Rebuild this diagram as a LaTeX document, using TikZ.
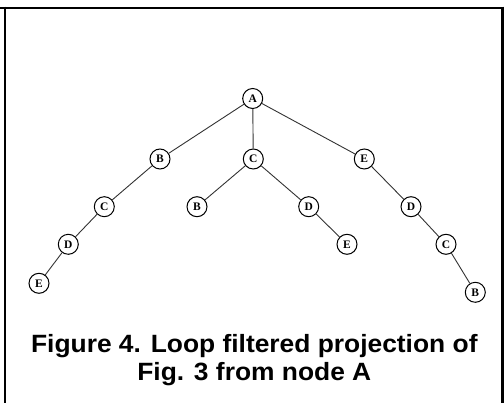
\documentclass[tikz,border=0pt]{standalone}
\usepackage{fontspec}
\setmainfont{Liberation Serif}
\newfontfamily\capfont{Liberation Sans}
\begin{document}
\begin{tikzpicture}[x=1pt,y=-1pt,
  tn/.style={circle,draw,line width=1pt,minimum size=20pt,inner sep=0pt,font=\fontsize{11.5}{13}\selectfont\bfseries},
  edge/.style={draw=black!80,line width=0.9pt},
  captext/.style={anchor=base,font=\capfont\fontsize{25}{30}\selectfont\bfseries,inner sep=0pt}]
\useasboundingbox (0,0) rectangle (504,403);
% frame
\draw[line width=2pt] (0,7.7) -- (503,7.7);
\draw[line width=2pt] (5,6.7) -- (5,403);
\draw[line width=3pt] (502.5,6.7) -- (502.5,403);
% nodes
\node[tn] (A)  at (252.7,98.5) {A};
\node[tn] (B1) at (160,159) {B};
\node[tn] (C1) at (253.3,159) {C};
\node[tn] (E1) at (364.3,159) {E};
\node[tn] (C2) at (104.3,206.7) {C};
\node[tn] (B2) at (197,206.7) {B};
\node[tn] (D2) at (308.7,206.7) {D};
\node[tn] (D3) at (411,206.7) {D};
\node[tn] (D4) at (68.3,244.3) {D};
\node[tn] (E4) at (347,244.3) {E};
\node[tn] (C4) at (446,244.3) {C};
\node[tn] (E5) at (39,283.3) {E};
\node[tn] (B5) at (475.3,292.3) {B};
% edges
\draw[edge] (A) -- (B1);
\draw[edge] (A) -- (C1);
\draw[edge] (A) -- (E1);
\draw[edge] (B1) -- (C2);
\draw[edge] (C2) -- (D4);
\draw[edge] (D4) -- (E5);
\draw[edge] (C1) -- (B2);
\draw[edge] (C1) -- (D2);
\draw[edge] (D2) -- (E4);
\draw[edge] (E1) -- (D3);
\draw[edge] (D3) -- (C4);
\draw[edge] (C4) -- (B5);
% caption
\node[captext] (cap1) at (254.3,352.7) {\scalebox{1.055}[1]{Figure 4. Loop filtered projection of}};
\node[captext] (cap2) at (254.3,381) {\scalebox{1.055}[1]{Fig. 3 from node A}};
\end{tikzpicture}
\end{document}
